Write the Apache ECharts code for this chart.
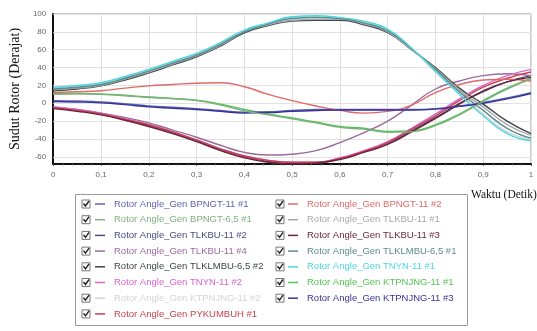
<!DOCTYPE html>
<html><head><meta charset="utf-8">
<script src="https://cdn.jsdelivr.net/npm/echarts@6/dist/echarts.min.js"></script>
<style>html,body{margin:0;padding:0;background:#fff}#c{width:537px;height:331px}</style>
</head><body><div id="c"></div>
<script>
// ---- data ----
const time = [0,0.05,0.1,0.15,0.2,0.25,0.3,0.35,0.4,0.45,0.5,0.55,0.6,0.65,0.7,0.75,0.8,0.85,0.9,0.95,1];
const xTicks = ['0','0,1','0,2','0,3','0,4','0,5','0,6','0,7','0,8','0,9','1'];
const yGrid = [-60,-40,-20,0,20,40,60,80,100];

const bpngt11_1   = [3,2.5,1.5,-0.5,-3,-4.5,-6,-8,-10,-9.5,-8,-7,-7,-7,-7,-7,-6,-3,1,6,12];
const bpngt65_1   = [10,10.5,10,8.5,6.5,5,3,-2,-8.5,-13,-17.5,-22,-27,-29,-32.5,-32,-25,-13,2,16,27];
const tlkbu11_2   = [-5,-8,-12,-18,-25,-33,-42,-52,-60,-65,-67,-67,-62,-54,-45,-31,-16,0,13,24,31];
const tlkbu11_4   = [-4,-7,-11,-16,-22,-30,-38,-47,-55,-58,-57,-53,-44,-33,-20,-2,16,25,31,33,31];
const tlklmbu65_2 = [14,16,19.5,26,34,43,52,64,79,87,92,93,93,88,79,60,40,17,-1,-20,-34];
const tnyn11_2    = [-4,-7,-11,-17,-24,-32,-41,-51,-59,-64,-66,-66,-61,-53,-43,-28,-12,5,20,31,38];
const ktpnjng11_2 = [17,19,22,29,37,46,55,67,81,89,96,97,95,91,82,61,35,11,-12,-32,-40];
const pykumbuh_1  = [-5,-8,-12,-18,-24,-32,-41,-51,-59,-64,-66,-66,-62,-54,-44,-29,-14,3,18,28,35];
const bpngt11_2   = [12,13,14,17,19.5,21,22.5,23,18.5,10,3,-3,-8,-11,-9,-2,12,21,26,27,25];
const tlkbu11_1   = [15,17,20,27,35,44,53,65,80,88,93,94,94,89,80,60,39,15,-4,-24,-36];
const tlkbu11_3   = [-6,-9,-13,-19,-26,-34,-43,-53,-61,-66,-68,-67,-63,-55,-46,-32,-17,-1,14,24,29];
const tlklmbu65_1 = [16,18,21,28,36,45,54,66,80,89,95,96,95,90,81,61,38,13,-8,-28,-39];
const tnyn11_1    = [18,20,23,30,38,47,56,68,82,90,97,98,96,92,83,62,36,10,-14,-34,-42];
const ktpnjng11_1 = [11,11,10.5,9,7,5.5,3.5,-1,-7,-12,-16.5,-21,-26,-28,-31.5,-31,-24,-12,3,17,28];
const ktpnjng11_3 = [2,1.5,0.5,-1.5,-4,-5.5,-7,-9,-11,-10.5,-9,-8,-7.5,-7.5,-7.5,-7.5,-6.5,-3.5,0,5,11];

const seriesNames = [
 'Rotor Angle_Gen BPNGT-11 #1','Rotor Angle_Gen BPNGT-6,5 #1','Rotor Angle_Gen TLKBU-11 #2',
 'Rotor Angle_Gen TLKBU-11 #4','Rotor Angle_Gen TLKLMBU-6,5 #2','Rotor Angle_Gen TNYN-11 #2',
 'Rotor Angle_Gen KTPNJNG-11 #2','Rotor Angle_Gen PYKUMBUH #1',
 'Rotor Angle_Gen BPNGT-11 #2','Rotor Angle_Gen TLKBU-11 #1','Rotor Angle_Gen TLKBU-11 #3',
 'Rotor Angle_Gen TLKLMBU-6,5 #1','Rotor Angle_Gen TNYN-11 #1','Rotor Angle_Gen KTPNJNG-11 #1',
 'Rotor Angle_Gen KTPNJNG-11 #3'];
const seriesValues = [bpngt11_1,bpngt65_1,tlkbu11_2,tlkbu11_4,tlklmbu65_2,tnyn11_2,ktpnjng11_2,pykumbuh_1,
 bpngt11_2,tlkbu11_1,tlkbu11_3,tlklmbu65_1,tnyn11_1,ktpnjng11_1,ktpnjng11_3];

// ---- styles ----
const colors = ['#6262b4','#80b080','#4a4a80','#9a6a9e','#3c4646','#d864d0','#d4d4d4','#c8404e',
 '#e06868','#a8a8a8','#6a2636','#5a8c8c','#4cd6e4','#52c452','#34349a'];
const seriesZ = [3,4,3,3,3,3,3,3,3,3,3,3,3,2,3];

const chart = echarts.init(document.getElementById('c'), null, {renderer:'canvas'});

const series = seriesNames.map((n,i)=>({
  name:n, type:'line', smooth:true, showSymbol:false, symbol:'none',
  data: time.map((t,k)=>[t, seriesValues[i][k]]),
  lineStyle:{color:colors[i], width:1.4}, itemStyle:{color:colors[i]},
  z: seriesZ[i], silent:true,
  markLine: i===0 ? {silent:true, symbol:'none', label:{show:false}, z:1,
     lineStyle:{color:'#e2e2e2', type:'solid', width:1},
     data: yGrid.map(v=>({yAxis:v}))} : undefined
}));

function legendData(from,to){
  return seriesNames.slice(from,to).map((n,k)=>({name:n, textStyle:{color:colors[from+k]}}));
}
const legendCommon = {orient:'vertical', icon:'rect', itemWidth:10, itemHeight:1.5, itemGap:4.7,
  selectedMode:false, padding:0,
  textStyle:{fontFamily:'Liberation Sans', fontSize:9.5, lineHeight:11, padding:[0,0,0,4]}};

const checkboxes = [];
for (let i=0;i<8;i++) checkboxes.push({x:82,row:i});
for (let i=0;i<7;i++) checkboxes.push({x:276,row:i});

chart.setOption({
  backgroundColor:'#fff',
  animation:false,
  grid:{left:44, right:6, top:14, bottom:167, show:true, borderColor:'#9a9a9a', borderWidth:1, backgroundColor:'#fff'},
  xAxis:{type:'value', min:0, max:1, interval:0.1,
    axisLine:{onZero:false, lineStyle:{color:'#111', width:2}},
    axisTick:{show:true, length:2, lineStyle:{color:'#555'}},
    minorTick:{show:true, splitNumber:5, length:1.5, lineStyle:{color:'#777'}},
    splitLine:{show:true, lineStyle:{color:'#e0e0e0'}},
    axisLabel:{color:'#666', fontSize:8, fontFamily:'Liberation Sans', margin:7,
      formatter:(v)=>{const i=Math.round(v*10); return xTicks[i]!==undefined?xTicks[i]:'';}}
  },
  yAxis:{type:'value', min:-68, max:100, interval:4,
    name:'Sudut Rotor (Derajat)', nameLocation:'middle', nameGap:21,
    nameTextStyle:{fontFamily:'Liberation Serif', fontSize:14, color:'#111'},
    axisLine:{show:true, onZero:false, lineStyle:{color:'#111', width:2}},
    axisTick:{show:false},
    splitLine:{show:false},
    axisLabel:{color:'#666', fontSize:8, fontFamily:'Liberation Sans', margin:7,
      formatter:(v)=> (Math.round(v)%20===0 ? String(Math.round(v)) : '')}
  },
  legend:[
    Object.assign({left:95, top:198.5, data:legendData(0,8)}, legendCommon),
    Object.assign({left:288, top:198.5, data:legendData(8,15)}, legendCommon)
  ],
  graphic:[
    {type:'rect', left:75, top:194, shape:{width:392, height:131}, z:-1,
      style:{fill:'#fff', stroke:'#9a9a9a', lineWidth:1}},
    {type:'text', left:471, top:189, style:{text:'Waktu (Detik)', fontFamily:'Liberation Serif', fontSize:11.5, fill:'#111'}},
    ...checkboxes.map(c=>({type:'group', x:c.x, y:200+15.7*c.row, children:[
      {type:'rect', shape:{x:0,y:0,width:8,height:8}, style:{fill:'#fff', stroke:'#777', lineWidth:1}},
      {type:'polyline', shape:{points:[[1.5,3.5],[3.5,6],[7,1]]}, style:{fill:null, stroke:'#222', lineWidth:1.4}}
    ]}))
  ],
  series: series
});
</script></body></html>
